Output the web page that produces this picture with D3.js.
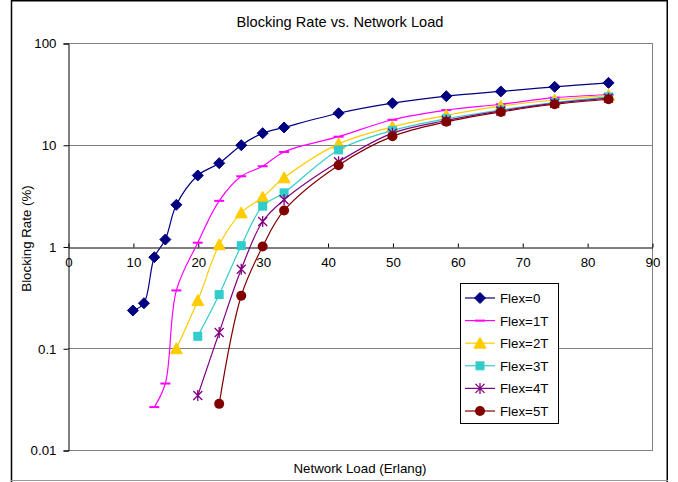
<!DOCTYPE html>
<html>
<head>
<meta charset="utf-8">
<script src="https://cdn.jsdelivr.net/npm/d3@7"></script>
<style>
  html, body { margin: 0; padding: 0; background: #fff; }
  svg { display: block; font-family: "Liberation Sans", Arial, sans-serif; }
</style>
</head>
<body>
<div id="chart"></div>
<script>
// ---- Data ----
const loads = [10, 11.7, 13.3, 15, 16.7, 20, 23.3, 26.7, 30, 33.3, 41.7, 50, 58.3, 66.7, 75, 83.3];
const seriesNames = ["Flex=0", "Flex=1T", "Flex=2T", "Flex=3T", "Flex=4T", "Flex=5T"];
const seriesColors = ["#000080", "#FF00FF", "#FFCC00", "#33CCCC", "#800080", "#800000"];
const seriesMarkers = ["diamond", "dash", "triangle", "square", "star", "circle"];
// first load index for each series
const seriesStart = [0, 2, 4, 5, 5, 6];
const flex0  = [0.235, 0.277, 0.785, 1.17, 2.57, 4.99, 6.59, 9.9, 13.0, 14.8, 20.4, 25.6, 30.0, 33.4, 37.1, 40.6];
const flex1T = [0.0264, 0.045, 0.37, 1.09, 2.81, 4.9, 6.15, 8.5, 12.0, 17.6, 21.9, 25.0, 29.0, 31.0];
const flex2T = [0.099, 0.294, 1.04, 2.14, 3.05, 4.73, 10.2, 15.0, 19.5, 24.0, 27.5, 30.5];
const flex3T = [0.131, 0.337, 1.02, 2.49, 3.37, 8.9, 13.8, 18.0, 22.0, 26.0, 29.5];
const flex4T = [0.0343, 0.143, 0.598, 1.76, 2.88, 6.8, 13.0, 17.3, 21.5, 25.5, 28.7];
const flex5T = [0.0284, 0.328, 1.0, 2.26, 6.3, 12.1, 16.8, 21.0, 25.0, 28.0];
const seriesValues = [flex0, flex1T, flex2T, flex3T, flex4T, flex5T];
const xTicks = [0, 10, 20, 30, 40, 50, 60, 70, 80, 90];
const yTicks = [0.01, 0.1, 1, 10, 100];
const yTickLabels = ["0.01", "0.1", "1", "10", "100"];
const titleText = "Blocking Rate vs. Network Load";
const xTitle = "Network Load (Erlang)";
const yTitle = "Blocking Rate (%)";

// ---- Layout ----
const W = 678, H = 482;
const plot = { left: 68, right: 652, top: 43, bottom: 450 };

const svg = d3.select("#chart").append("svg").attr("width", W).attr("height", H);

// outer frame
svg.append("path").attr("d", `M11.5,${H} V0.75 H667.25 V${H}`)
  .attr("fill", "none").attr("stroke", "#000").attr("stroke-width", 1.5);
svg.append("line").attr("x1", 11).attr("x2", 668).attr("y1", 480.5).attr("y2", 480.5)
  .attr("stroke", "#999").attr("stroke-width", 1);

const x = d3.scaleLinear().domain([0, 90]).range([plot.left, plot.right]);
const y = d3.scaleLog().domain([0.01, 100]).range([plot.bottom, plot.top]);

// gridlines (gray) at 0.01, 0.1, 10, 100
const g = svg.append("g");
g.selectAll("line.grid").data(yTicks.filter(v => v !== 1)).join("line")
  .attr("x1", plot.left).attr("x2", plot.right)
  .attr("y1", d => Math.round(y(d)) + 0.5).attr("y2", d => Math.round(y(d)) + 0.5)
  .attr("stroke", "#808080").attr("stroke-width", 1);
// right border
g.append("line").attr("x1", plot.right + 0.5).attr("x2", plot.right + 0.5)
  .attr("y1", plot.top).attr("y2", plot.bottom + 1)
  .attr("stroke", "#808080");

// y axis
const yAxis = d3.axisLeft(y).tickValues(yTicks).tickFormat((d, i) => yTickLabels[i]).tickSize(5).tickPadding(7);
const yg = svg.append("g").attr("transform", `translate(${plot.left + 0.5},0.5)`).call(yAxis);
yg.select(".domain").attr("stroke", "#000");
yg.selectAll(".tick line").attr("stroke", "#000");
yg.selectAll("text").attr("font-size", "13.3px").attr("fill", "#000")
  .attr("font-family", "Liberation Sans, Arial, sans-serif");

// x axis crossing at y = 1
const xAxis = d3.axisBottom(x).tickValues(xTicks).tickFormat(d3.format("d")).tickSizeInner(-4).tickSizeOuter(0).tickPadding(10);
const xg = svg.append("g").attr("transform", `translate(0.5,${Math.round(y(1)) + 0.5})`).call(xAxis);
xg.select(".domain").attr("stroke", "#000");
xg.selectAll(".tick line").attr("stroke", "#000");
xg.selectAll("text").attr("font-size", "13.3px").attr("fill", "#000")
  .attr("font-family", "Liberation Sans, Arial, sans-serif");

// titles
svg.append("text").attr("x", 340).attr("y", 27).attr("text-anchor", "middle")
  .attr("font-size", "14.6px").text(titleText);
svg.append("text").attr("x", 360).attr("y", 473).attr("text-anchor", "middle")
  .attr("font-size", "13.3px").text(xTitle);
svg.append("text").attr("transform", `translate(31,${(plot.top + plot.bottom) / 2 - 8}) rotate(-90)`)
  .attr("text-anchor", "middle").attr("font-size", "13.3px").text(yTitle);

// markers
function drawMarker(sel, type, color) {
  if (type === "diamond") {
    sel.append("path").attr("d", "M0,-5.5 L5.5,0 L0,5.5 L-5.5,0 Z").attr("fill", color).attr("stroke", color);
  } else if (type === "dash") {
    sel.append("line").attr("x1", -5).attr("x2", 5).attr("y1", 0).attr("y2", 0)
      .attr("stroke", color).attr("stroke-width", 2);
  } else if (type === "triangle") {
    sel.append("path").attr("d", "M0,-6 L6,5 L-6,5 Z").attr("fill", color).attr("stroke", color);
  } else if (type === "square") {
    sel.append("rect").attr("x", -4.5).attr("y", -4.5).attr("width", 9).attr("height", 9).attr("fill", color);
  } else if (type === "star") {
    sel.append("path").attr("d", "M-4.5,-4.5 L4.5,4.5 M-4.5,4.5 L4.5,-4.5 M0,-5.5 L0,5.5")
      .attr("stroke", color).attr("stroke-width", 1.3).attr("fill", "none");
  } else if (type === "circle") {
    sel.append("circle").attr("r", 5).attr("fill", color);
  }
}

const line = d3.line().x(d => x(d[0])).y(d => y(d[1])).curve(d3.curveCatmullRom.alpha(0.5));

seriesValues.forEach((vals, si) => {
  const pts = vals.map((v, i) => [loads[seriesStart[si] + i], v]);
  const sg = svg.append("g");
  sg.append("path").datum(pts).attr("d", line)
    .attr("fill", "none").attr("stroke", seriesColors[si]).attr("stroke-width", 1.2);
  pts.forEach(p => {
    const m = sg.append("g").attr("transform", `translate(${x(p[0])},${y(p[1])})`);
    drawMarker(m, seriesMarkers[si], seriesColors[si]);
  });
});

// legend
const lg = svg.append("g").attr("transform", "translate(460,283)");
lg.append("rect").attr("x", 0.5).attr("y", 0.5).attr("width", 98).attr("height", 140)
  .attr("fill", "#fff").attr("stroke", "#000").attr("stroke-width", 1);
seriesNames.forEach((name, i) => {
  const yy = 15 + i * 22.6;
  const row = lg.append("g").attr("transform", `translate(0,${yy})`);
  row.append("line").attr("x1", 5).attr("x2", 35).attr("y1", 0).attr("y2", 0)
    .attr("stroke", seriesColors[i]).attr("stroke-width", 1.2);
  const m = row.append("g").attr("transform", "translate(20,0)");
  drawMarker(m, seriesMarkers[i], seriesColors[i]);
  row.append("text").attr("x", 40).attr("y", 5).attr("font-size", "13.3px").text(name);
});
</script>
</body>
</html>
